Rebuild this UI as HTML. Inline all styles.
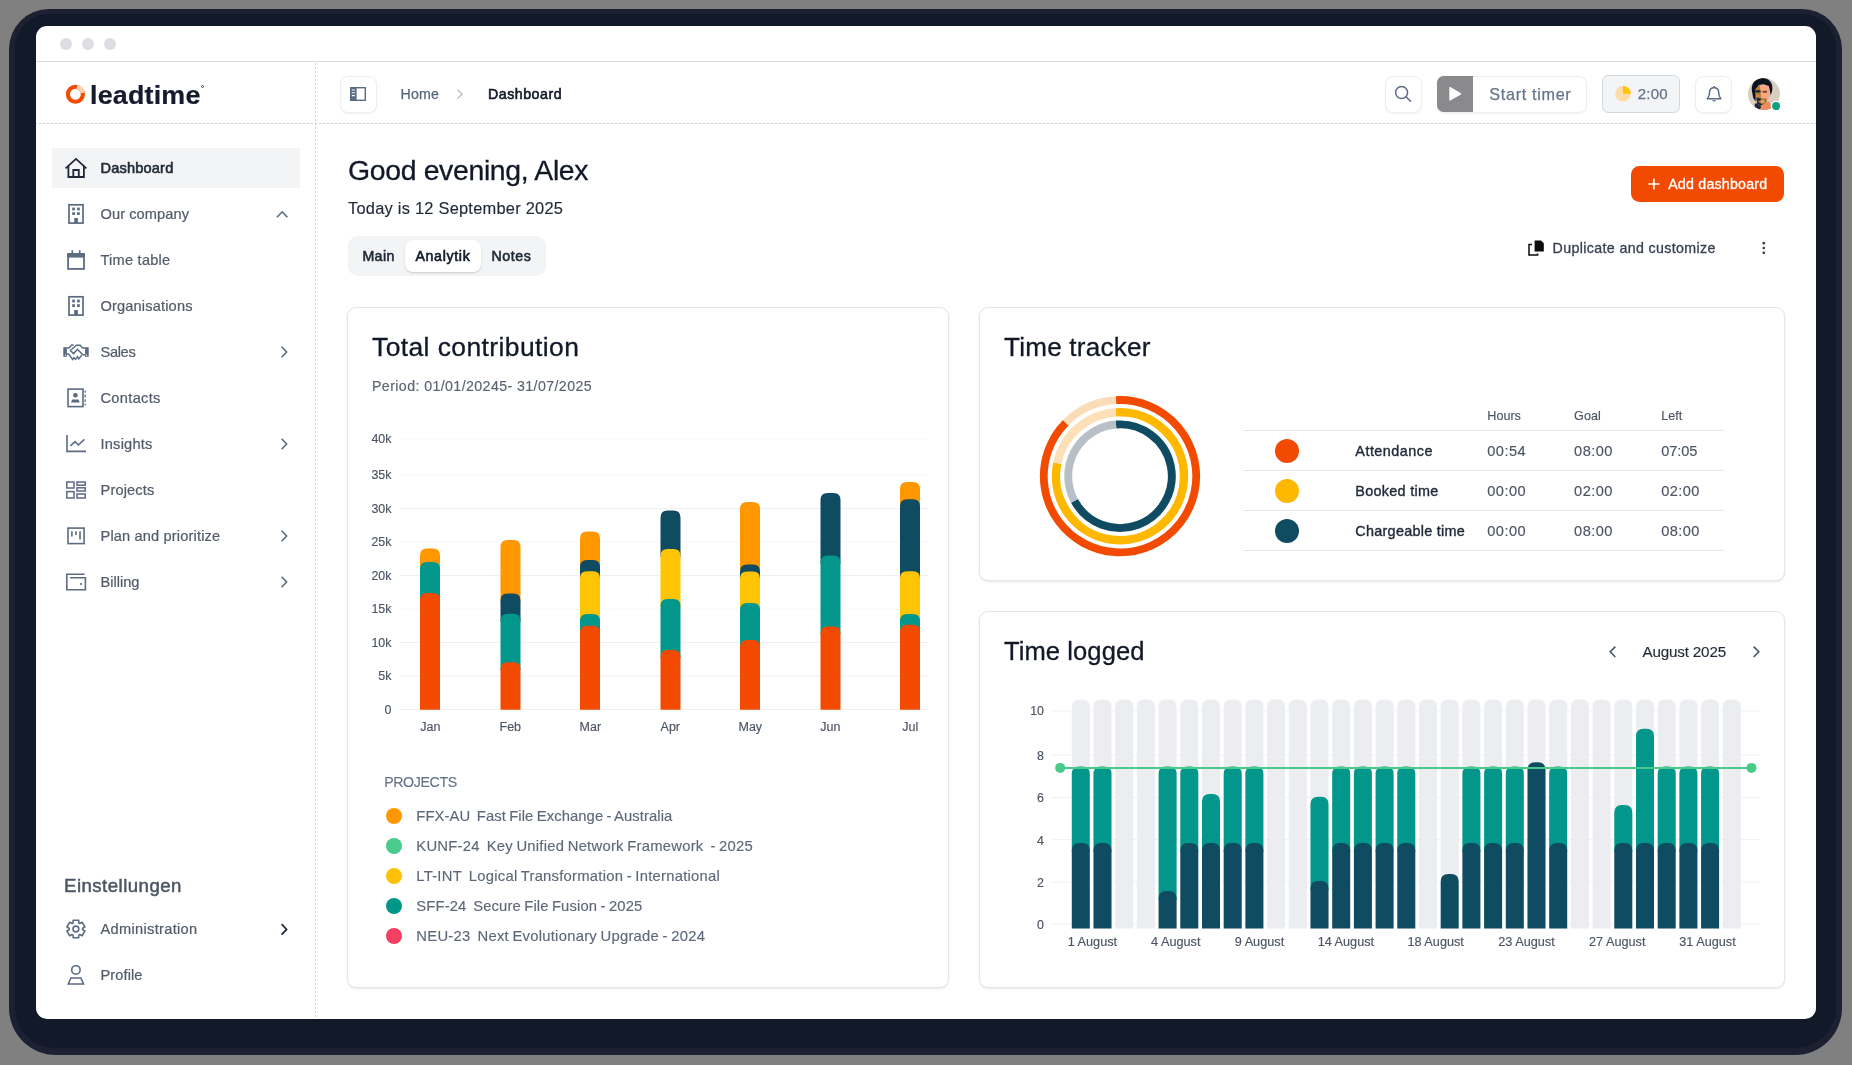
<!DOCTYPE html>
<html><head><meta charset="utf-8"><title>leadtime</title>
<style>
*{margin:0;padding:0;box-sizing:border-box}
html,body{width:1852px;height:1065px;overflow:hidden}
body{background:#808080;font-family:"Liberation Sans",sans-serif;position:relative}
.t{position:absolute;white-space:pre;font-family:"Liberation Sans",sans-serif}
.a{position:absolute}
svg{position:absolute;overflow:visible}
.card{position:absolute;background:#fff;border:1px solid #e3e6ea;border-radius:9px;box-shadow:0 1px 2px rgba(16,24,40,.10)}
.btn{position:absolute;background:#fff;border:1px solid #eceef2;border-radius:8px;box-shadow:0 1px 2px rgba(16,24,40,.05)}
</style></head><body>
<div id="L" style="position:absolute;left:0;top:0;width:1852px;height:1065px;will-change:transform">
<div class="a" style="left:8.6px;top:8.6px;width:1833.8px;height:1046.4px;border-radius:40px 40px 47px 47px;background:#1d2031"></div>
<div class="a" style="left:15px;top:14px;width:1821px;height:1034px;border-radius:34px 34px 40px 40px;background:#121929"></div>
<div class="a" style="left:36px;top:26px;width:1780px;height:993px;border-radius:11px;background:#fff"></div>
<div class="a" style="left:36px;top:61px;width:1780px;height:1px;background:#d8dadc"></div>
<div class="a" style="left:60px;top:38px;width:12px;height:12px;border-radius:6px;background:#dcdee2"></div>
<div class="a" style="left:82px;top:38px;width:12px;height:12px;border-radius:6px;background:#dcdee2"></div>
<div class="a" style="left:104px;top:38px;width:12px;height:12px;border-radius:6px;background:#dcdee2"></div>
<div class="a" style="left:36px;top:123px;width:1780px;height:1px;background:repeating-linear-gradient(to right,#c6ced9 0 2px,transparent 2px 4px);background-position:3px 0"></div>
<div class="a" style="left:315px;top:63px;width:1px;height:956px;background:repeating-linear-gradient(to bottom,#c6ced9 0 2px,transparent 2px 4px)"></div>
<div class="a" style="left:52px;top:148px;width:248px;height:40px;border-radius:2px;background:#f3f4f6"></div>
<span class="t" style="left:100.50px;top:159.00px;font-size:14.6px;line-height:18px;letter-spacing:0.172px;color:#1f2937;-webkit-text-stroke:0.60px #1f2937;">Dashboard</span>
<span class="t" style="left:100.50px;top:205.00px;font-size:14.6px;line-height:18px;letter-spacing:0.086px;color:#535c6a;-webkit-text-stroke:0.22px #535c6a;">Our company</span>
<span class="t" style="left:100.50px;top:251.00px;font-size:14.6px;line-height:18px;letter-spacing:0.231px;color:#535c6a;-webkit-text-stroke:0.22px #535c6a;">Time table</span>
<span class="t" style="left:100.50px;top:297.00px;font-size:14.6px;line-height:18px;letter-spacing:0.160px;color:#535c6a;-webkit-text-stroke:0.22px #535c6a;">Organisations</span>
<span class="t" style="left:100.50px;top:343.00px;font-size:14.6px;line-height:18px;letter-spacing:-0.330px;color:#535c6a;-webkit-text-stroke:0.22px #535c6a;">Sales</span>
<span class="t" style="left:100.50px;top:389.00px;font-size:14.6px;line-height:18px;letter-spacing:0.326px;color:#535c6a;-webkit-text-stroke:0.22px #535c6a;">Contacts</span>
<span class="t" style="left:100.50px;top:435.00px;font-size:14.6px;line-height:18px;letter-spacing:0.226px;color:#535c6a;-webkit-text-stroke:0.22px #535c6a;">Insights</span>
<span class="t" style="left:100.50px;top:481.00px;font-size:14.6px;line-height:18px;letter-spacing:0.151px;color:#535c6a;-webkit-text-stroke:0.22px #535c6a;">Projects</span>
<span class="t" style="left:100.50px;top:527.00px;font-size:14.6px;line-height:18px;letter-spacing:0.157px;color:#535c6a;-webkit-text-stroke:0.22px #535c6a;">Plan and prioritize</span>
<span class="t" style="left:100.50px;top:573.00px;font-size:14.6px;line-height:18px;letter-spacing:0.008px;color:#535c6a;-webkit-text-stroke:0.22px #535c6a;">Billing</span>
<span class="t" style="left:100.50px;top:920.00px;font-size:14.6px;line-height:18px;letter-spacing:0.323px;color:#535c6a;-webkit-text-stroke:0.22px #535c6a;">Administration</span>
<span class="t" style="left:100.50px;top:966.00px;font-size:14.6px;line-height:18px;letter-spacing:0.103px;color:#535c6a;-webkit-text-stroke:0.22px #535c6a;">Profile</span>
<span class="t" style="left:64.00px;top:874.00px;font-size:18.6px;line-height:23px;letter-spacing:0.476px;color:#4b5563;-webkit-text-stroke:0.50px #4b5563;">Einstellungen</span>
<div class="btn" style="left:339.5px;top:75.5px;width:37px;height:37px"></div>
<span class="t" style="left:400.60px;top:85.00px;font-size:14.2px;line-height:18px;letter-spacing:0.174px;color:#56657d;-webkit-text-stroke:0.25px #56657d;">Home</span>
<span class="t" style="left:488.00px;top:85.00px;font-size:14.2px;line-height:18px;letter-spacing:0.516px;color:#111827;-webkit-text-stroke:0.60px #111827;">Dashboard</span>
<div class="btn" style="left:1384.5px;top:75.5px;width:37px;height:37px"></div>
<div class="btn" style="left:1437px;top:75.5px;width:150px;height:37px"></div>
<div class="a" style="left:1437px;top:75.6px;width:36px;height:36.8px;border-radius:6.5px 0 0 6.5px;background:#8a8a8d"></div>
<span class="t" style="left:1489.30px;top:84.00px;font-size:16.2px;line-height:20px;letter-spacing:0.679px;color:#64748b;-webkit-text-stroke:0.25px #64748b;">Start timer</span>
<div class="a" style="left:1602px;top:75.2px;width:78.4px;height:37.4px;border-radius:6.5px;background:#f3f4f6;border:1px solid #d2d7de"></div>
<span class="t" style="left:1637.80px;top:85.00px;font-size:15px;line-height:18px;letter-spacing:0.169px;color:#64748b;-webkit-text-stroke:0.25px #64748b;">2:00</span>
<div class="btn" style="left:1695.2px;top:75.5px;width:37.2px;height:37px"></div>
<span class="t" style="left:348.00px;top:153.00px;font-size:28.4px;line-height:35px;letter-spacing:-0.336px;color:#111827;-webkit-text-stroke:0.30px #111827;">Good evening, Alex</span>
<span class="t" style="left:348.00px;top:198.00px;font-size:16.4px;line-height:20px;letter-spacing:0.249px;color:#1f2937;-webkit-text-stroke:0.15px #1f2937;">Today is 12 September 2025</span>
<div class="a" style="left:348px;top:236px;width:198px;height:40px;border-radius:10px;background:#f3f4f6"></div>
<div class="a" style="left:405px;top:240px;width:76px;height:32px;border-radius:8px;background:#fff;box-shadow:0 1px 2px rgba(16,24,40,.18)"></div>
<span class="t" style="left:362.40px;top:247.00px;font-size:14.2px;line-height:18px;letter-spacing:0.407px;color:#1f2937;-webkit-text-stroke:0.60px #1f2937;">Main</span>
<span class="t" style="left:415.40px;top:247.00px;font-size:14.2px;line-height:18px;letter-spacing:0.668px;color:#111827;-webkit-text-stroke:0.60px #111827;">Analytik</span>
<span class="t" style="left:491.40px;top:247.00px;font-size:14.2px;line-height:18px;letter-spacing:0.601px;color:#1f2937;-webkit-text-stroke:0.60px #1f2937;">Notes</span>
<div class="a" style="left:1631px;top:166px;width:153px;height:36px;border-radius:8.5px;background:#f24a00"></div>
<span class="t" style="left:1668.20px;top:175.00px;font-size:14.2px;line-height:18px;letter-spacing:0.223px;color:#fff;-webkit-text-stroke:0.30px #fff;">Add dashboard</span>
<span class="t" style="left:1552.60px;top:239.00px;font-size:14.2px;line-height:18px;letter-spacing:0.377px;color:#374151;-webkit-text-stroke:0.30px #374151;">Duplicate and customize</span>
<div class="card" style="left:347px;top:307px;width:602px;height:681px"></div>
<div class="card" style="left:979px;top:307px;width:806px;height:274px"></div>
<div class="card" style="left:979px;top:611px;width:806px;height:377px"></div>
<span class="t" style="left:372.00px;top:332.00px;font-size:25.2px;line-height:31px;letter-spacing:0.390px;color:#111827;-webkit-text-stroke:0.30px #111827;transform:scaleX(1.05);transform-origin:0 0;">Total contribution</span>
<span class="t" style="left:1004.00px;top:332.00px;font-size:25.2px;line-height:31px;letter-spacing:0.224px;color:#111827;-webkit-text-stroke:0.30px #111827;transform:scaleX(1.035);transform-origin:0 0;">Time tracker</span>
<span class="t" style="left:1004.00px;top:636.00px;font-size:25.2px;line-height:31px;letter-spacing:0.068px;color:#111827;-webkit-text-stroke:0.30px #111827;transform:scaleX(1.015);transform-origin:0 0;">Time logged</span>
<span class="t" style="left:372.00px;top:377.00px;font-size:14.2px;line-height:18px;letter-spacing:0.405px;color:#5b6472;-webkit-text-stroke:0.15px #5b6472;">Period: 01/01/20245- 31/07/2025</span>
<span class="t" style="left:384.50px;top:703.00px;font-size:12.4px;line-height:15px;letter-spacing:0.000px;color:#4b5563;-webkit-text-stroke:0.15px #4b5563;">0</span>
<span class="t" style="left:378.30px;top:669.00px;font-size:12.4px;line-height:15px;letter-spacing:0.000px;color:#4b5563;-webkit-text-stroke:0.15px #4b5563;">5k</span>
<span class="t" style="left:371.41px;top:636.00px;font-size:12.4px;line-height:15px;letter-spacing:0.000px;color:#4b5563;-webkit-text-stroke:0.15px #4b5563;">10k</span>
<span class="t" style="left:371.41px;top:602.00px;font-size:12.4px;line-height:15px;letter-spacing:0.000px;color:#4b5563;-webkit-text-stroke:0.15px #4b5563;">15k</span>
<span class="t" style="left:371.41px;top:569.00px;font-size:12.4px;line-height:15px;letter-spacing:0.000px;color:#4b5563;-webkit-text-stroke:0.15px #4b5563;">20k</span>
<span class="t" style="left:371.41px;top:535.00px;font-size:12.4px;line-height:15px;letter-spacing:0.000px;color:#4b5563;-webkit-text-stroke:0.15px #4b5563;">25k</span>
<span class="t" style="left:371.41px;top:502.00px;font-size:12.4px;line-height:15px;letter-spacing:0.000px;color:#4b5563;-webkit-text-stroke:0.15px #4b5563;">30k</span>
<span class="t" style="left:371.41px;top:468.00px;font-size:12.4px;line-height:15px;letter-spacing:0.000px;color:#4b5563;-webkit-text-stroke:0.15px #4b5563;">35k</span>
<span class="t" style="left:371.41px;top:432.00px;font-size:12.4px;line-height:15px;letter-spacing:0.000px;color:#4b5563;-webkit-text-stroke:0.15px #4b5563;">40k</span>
<span class="t" style="left:420.22px;top:720.00px;font-size:12.5px;line-height:15px;letter-spacing:0.000px;color:#4b5563;-webkit-text-stroke:0.15px #4b5563;">Jan</span>
<span class="t" style="left:499.53px;top:720.00px;font-size:12.5px;line-height:15px;letter-spacing:0.000px;color:#4b5563;-webkit-text-stroke:0.15px #4b5563;">Feb</span>
<span class="t" style="left:579.54px;top:720.00px;font-size:12.5px;line-height:15px;letter-spacing:0.000px;color:#4b5563;-webkit-text-stroke:0.15px #4b5563;">Mar</span>
<span class="t" style="left:660.57px;top:720.00px;font-size:12.5px;line-height:15px;letter-spacing:0.000px;color:#4b5563;-webkit-text-stroke:0.15px #4b5563;">Apr</span>
<span class="t" style="left:738.49px;top:720.00px;font-size:12.5px;line-height:15px;letter-spacing:0.000px;color:#4b5563;-webkit-text-stroke:0.15px #4b5563;">May</span>
<span class="t" style="left:820.22px;top:720.00px;font-size:12.5px;line-height:15px;letter-spacing:0.000px;color:#4b5563;-webkit-text-stroke:0.15px #4b5563;">Jun</span>
<span class="t" style="left:902.31px;top:720.00px;font-size:12.5px;line-height:15px;letter-spacing:0.000px;color:#4b5563;-webkit-text-stroke:0.15px #4b5563;">Jul</span>
<span class="t" style="left:384.20px;top:773.00px;font-size:14.2px;line-height:18px;letter-spacing:-0.392px;color:#64748b;-webkit-text-stroke:0.15px #64748b;">PROJECTS</span>
<div class="a" style="left:386px;top:808px;width:16px;height:16px;border-radius:8px;background:#ff9800"></div>
<span class="t" style="left:416.30px;top:807.00px;font-size:14.8px;line-height:18px;letter-spacing:0.085px;color:#5d687a;-webkit-text-stroke:0.15px #5d687a;word-spacing:-0.9px;">FFX-AU&nbsp; Fast File Exchange - Australia</span>
<div class="a" style="left:386px;top:838px;width:16px;height:16px;border-radius:8px;background:#4acb8b"></div>
<span class="t" style="left:416.30px;top:837.00px;font-size:14.8px;line-height:18px;letter-spacing:0.254px;color:#5d687a;-webkit-text-stroke:0.15px #5d687a;word-spacing:-0.9px;">KUNF-24&nbsp; Key Unified Network Framework&nbsp; - 2025</span>
<div class="a" style="left:386px;top:868px;width:16px;height:16px;border-radius:8px;background:#ffc107"></div>
<span class="t" style="left:416.30px;top:867.00px;font-size:14.8px;line-height:18px;letter-spacing:0.253px;color:#5d687a;-webkit-text-stroke:0.15px #5d687a;word-spacing:-0.9px;">LT-INT&nbsp; Logical Transformation - International</span>
<div class="a" style="left:386px;top:898px;width:16px;height:16px;border-radius:8px;background:#009688"></div>
<span class="t" style="left:416.30px;top:897.00px;font-size:14.8px;line-height:18px;letter-spacing:0.137px;color:#5d687a;-webkit-text-stroke:0.15px #5d687a;word-spacing:-0.9px;">SFF-24&nbsp; Secure File Fusion - 2025</span>
<div class="a" style="left:386px;top:928px;width:16px;height:16px;border-radius:8px;background:#f43f63"></div>
<span class="t" style="left:416.30px;top:927.00px;font-size:14.8px;line-height:18px;letter-spacing:0.264px;color:#5d687a;-webkit-text-stroke:0.15px #5d687a;word-spacing:-0.9px;">NEU-23&nbsp; Next Evolutionary Upgrade - 2024</span>
<div class="a" style="left:1243px;top:430px;width:481px;height:1px;background:#e5e7eb"></div>
<div class="a" style="left:1243px;top:470px;width:481px;height:1px;background:#e5e7eb"></div>
<div class="a" style="left:1243px;top:510px;width:481px;height:1px;background:#e5e7eb"></div>
<div class="a" style="left:1243px;top:550px;width:481px;height:1px;background:#e5e7eb"></div>
<span class="t" style="left:1487.30px;top:408.00px;font-size:12.6px;line-height:16px;letter-spacing:0.000px;color:#4b5563;-webkit-text-stroke:0.15px #4b5563;">Hours</span>
<span class="t" style="left:1574.10px;top:408.00px;font-size:12.6px;line-height:16px;letter-spacing:0.000px;color:#4b5563;-webkit-text-stroke:0.15px #4b5563;">Goal</span>
<span class="t" style="left:1661.20px;top:408.00px;font-size:12.6px;line-height:16px;letter-spacing:0.000px;color:#4b5563;-webkit-text-stroke:0.15px #4b5563;">Left</span>
<div class="a" style="left:1275px;top:439px;width:24px;height:24px;border-radius:12px;background:#f24a00"></div>
<span class="t" style="left:1355.30px;top:442.00px;font-size:14.4px;line-height:18px;letter-spacing:0.494px;color:#1f2937;-webkit-text-stroke:0.38px #1f2937;">Attendance</span>
<span class="t" style="left:1487.30px;top:442.00px;font-size:14.6px;line-height:18px;letter-spacing:0.441px;color:#4b5563;-webkit-text-stroke:0.15px #4b5563;">00:54</span>
<span class="t" style="left:1574.10px;top:442.00px;font-size:14.6px;line-height:18px;letter-spacing:0.441px;color:#4b5563;-webkit-text-stroke:0.15px #4b5563;">08:00</span>
<span class="t" style="left:1661.20px;top:442.00px;font-size:14.6px;line-height:18px;letter-spacing:-0.059px;color:#4b5563;-webkit-text-stroke:0.15px #4b5563;">07:05</span>
<div class="a" style="left:1275px;top:479px;width:24px;height:24px;border-radius:12px;background:#ffb800"></div>
<span class="t" style="left:1355.30px;top:482.00px;font-size:14.4px;line-height:18px;letter-spacing:0.296px;color:#1f2937;-webkit-text-stroke:0.38px #1f2937;">Booked time</span>
<span class="t" style="left:1487.30px;top:482.00px;font-size:14.6px;line-height:18px;letter-spacing:0.441px;color:#4b5563;-webkit-text-stroke:0.15px #4b5563;">00:00</span>
<span class="t" style="left:1574.10px;top:482.00px;font-size:14.6px;line-height:18px;letter-spacing:0.441px;color:#4b5563;-webkit-text-stroke:0.15px #4b5563;">02:00</span>
<span class="t" style="left:1661.20px;top:482.00px;font-size:14.6px;line-height:18px;letter-spacing:0.441px;color:#4b5563;-webkit-text-stroke:0.15px #4b5563;">02:00</span>
<div class="a" style="left:1275px;top:519px;width:24px;height:24px;border-radius:12px;background:#104c61"></div>
<span class="t" style="left:1355.30px;top:522.00px;font-size:14.4px;line-height:18px;letter-spacing:0.281px;color:#1f2937;-webkit-text-stroke:0.38px #1f2937;">Chargeable time</span>
<span class="t" style="left:1487.30px;top:522.00px;font-size:14.6px;line-height:18px;letter-spacing:0.441px;color:#4b5563;-webkit-text-stroke:0.15px #4b5563;">00:00</span>
<span class="t" style="left:1574.10px;top:522.00px;font-size:14.6px;line-height:18px;letter-spacing:0.441px;color:#4b5563;-webkit-text-stroke:0.15px #4b5563;">08:00</span>
<span class="t" style="left:1661.20px;top:522.00px;font-size:14.6px;line-height:18px;letter-spacing:0.441px;color:#4b5563;-webkit-text-stroke:0.15px #4b5563;">08:00</span>
<span class="t" style="left:1642.50px;top:642.00px;font-size:15.2px;line-height:19px;letter-spacing:-0.166px;color:#1f2937;-webkit-text-stroke:0.15px #1f2937;">August 2025</span>
<span class="t" style="left:1030.21px;top:704.00px;font-size:12.4px;line-height:15px;letter-spacing:0.000px;color:#4b5563;-webkit-text-stroke:0.15px #4b5563;">10</span>
<span class="t" style="left:1037.10px;top:749.00px;font-size:12.4px;line-height:15px;letter-spacing:0.000px;color:#4b5563;-webkit-text-stroke:0.15px #4b5563;">8</span>
<span class="t" style="left:1037.10px;top:791.00px;font-size:12.4px;line-height:15px;letter-spacing:0.000px;color:#4b5563;-webkit-text-stroke:0.15px #4b5563;">6</span>
<span class="t" style="left:1037.10px;top:834.00px;font-size:12.4px;line-height:15px;letter-spacing:0.000px;color:#4b5563;-webkit-text-stroke:0.15px #4b5563;">4</span>
<span class="t" style="left:1037.10px;top:876.00px;font-size:12.4px;line-height:15px;letter-spacing:0.000px;color:#4b5563;-webkit-text-stroke:0.15px #4b5563;">2</span>
<span class="t" style="left:1037.10px;top:918.00px;font-size:12.4px;line-height:15px;letter-spacing:0.000px;color:#4b5563;-webkit-text-stroke:0.15px #4b5563;">0</span>
<span class="t" style="left:1067.69px;top:934.00px;font-size:12.7px;line-height:16px;letter-spacing:0.000px;color:#4b5563;-webkit-text-stroke:0.15px #4b5563;">1 August</span>
<span class="t" style="left:1151.09px;top:934.00px;font-size:12.7px;line-height:16px;letter-spacing:0.000px;color:#4b5563;-webkit-text-stroke:0.15px #4b5563;">4 August</span>
<span class="t" style="left:1234.79px;top:934.00px;font-size:12.7px;line-height:16px;letter-spacing:0.000px;color:#4b5563;-webkit-text-stroke:0.15px #4b5563;">9 August</span>
<span class="t" style="left:1317.65px;top:934.00px;font-size:12.7px;line-height:16px;letter-spacing:0.000px;color:#4b5563;-webkit-text-stroke:0.15px #4b5563;">14 August</span>
<span class="t" style="left:1407.45px;top:934.00px;font-size:12.7px;line-height:16px;letter-spacing:0.000px;color:#4b5563;-webkit-text-stroke:0.15px #4b5563;">18 August</span>
<span class="t" style="left:1498.25px;top:934.00px;font-size:12.7px;line-height:16px;letter-spacing:0.000px;color:#4b5563;-webkit-text-stroke:0.15px #4b5563;">23 August</span>
<span class="t" style="left:1589.05px;top:934.00px;font-size:12.7px;line-height:16px;letter-spacing:0.000px;color:#4b5563;-webkit-text-stroke:0.15px #4b5563;">27 August</span>
<span class="t" style="left:1679.25px;top:934.00px;font-size:12.7px;line-height:16px;letter-spacing:0.000px;color:#4b5563;-webkit-text-stroke:0.15px #4b5563;">31 August</span>
<svg width="1852" height="1065" viewBox="0 0 1852 1065" style="left:0;top:0"><circle cx="75.4" cy="94.3" r="7.5" fill="none" stroke="#f24a00" stroke-width="4.1"/>
<path d="M76.96 86.96 A7.5 7.5 0 0 1 82.79 93.00" fill="none" stroke="#fbd3b3" stroke-width="4.1" />
<g fill="none" stroke="#1f2937" stroke-width="1.8" stroke-linejoin="miter"><path d="M65.6 168.4 L76 158.9 L86.4 168.4"/><path d="M68.4 166 V177 H83.9 V166"/><path d="M73.3 177 V170 H78.8 V177"/></g>
<g><rect x="69" y="204.8" width="14" height="18.3" fill="none" stroke="#5b6b82" stroke-width="1.7"/><rect x="72.2" y="207.6" width="2.7" height="2.8" fill="#5b6b82"/><rect x="77.1" y="207.6" width="2.7" height="2.8" fill="#5b6b82"/><rect x="72.2" y="212.2" width="2.7" height="2.8" fill="#5b6b82"/><rect x="77.1" y="212.2" width="2.7" height="2.8" fill="#5b6b82"/><rect x="74.2" y="218" width="3.7" height="5" fill="#5b6b82"/></g>
<g><rect x="69" y="296.8" width="14" height="18.3" fill="none" stroke="#5b6b82" stroke-width="1.7"/><rect x="72.2" y="299.6" width="2.7" height="2.8" fill="#5b6b82"/><rect x="77.1" y="299.6" width="2.7" height="2.8" fill="#5b6b82"/><rect x="72.2" y="304.2" width="2.7" height="2.8" fill="#5b6b82"/><rect x="77.1" y="304.2" width="2.7" height="2.8" fill="#5b6b82"/><rect x="74.2" y="310" width="3.7" height="5" fill="#5b6b82"/></g>
<g><rect x="68.1" y="253.9" width="15.9" height="15" fill="none" stroke="#5b6b82" stroke-width="1.8"/><rect x="67.2" y="253" width="17.7" height="4.6" fill="#5b6b82"/><rect x="71.5" y="250.2" width="1.6" height="3.5" fill="#5b6b82"/><rect x="78.9" y="250.2" width="1.6" height="3.5" fill="#5b6b82"/></g>
<g fill="none" stroke="#5b6b82" stroke-width="1.45" stroke-linejoin="miter"><rect x="63.3" y="347.2" width="3.6" height="9.6" fill="#5b6b82" stroke="none"/><rect x="85.1" y="347.2" width="3.6" height="9.6" fill="#5b6b82" stroke="none"/><circle cx="65.5" cy="355.2" r="0.6" fill="#fff" stroke="none"/><circle cx="86.6" cy="355.2" r="0.6" fill="#fff" stroke="none"/><path d="M66.9 348 H69 L71.7 345 H73.7"/><path d="M85.1 348 H82.5 L80.2 345.2 H76.4 L70.4 350.5 L73.5 353.6 L77.5 349.3 L82 354.1 Q82.8 355 84 355 H85.1"/><path d="M66.9 354 H68.5 L72.7 359.5 L73.9 357.6 L75.5 359.4 L77.4 356.7 L78.6 359 L81.7 355.2"/></g>
<g><rect x="68" y="389.1" width="15" height="17.5" fill="none" stroke="#5b6b82" stroke-width="1.6"/><circle cx="75.4" cy="395.3" r="2.3" fill="#5b6b82"/><path d="M72.3 399.6 H78.5 L79.8 402.6 H71 Z" fill="#5b6b82"/><path d="M85.2 390.5 V392.8 M85.2 394.6 V397.4 M85.2 399.2 V402 M85.2 403.6 V405.4" stroke="#5b6b82" stroke-width="1.2"/></g>
<g fill="none" stroke="#5b6b82" stroke-width="1.6"><path d="M67 435 V451.4 H86"/><path d="M70.4 445.8 L75 441.6 L78.4 445 L84.4 439.4" stroke-linejoin="miter"/></g>
<g fill="none" stroke="#5b6b82" stroke-width="1.5"><rect x="66.8" y="482" width="7.2" height="6"/><rect x="66.8" y="491.6" width="7.2" height="6.4"/><rect x="77" y="482" width="8.2" height="3.2"/><rect x="77" y="487.8" width="8.2" height="3.2"/><rect x="77" y="494" width="8.2" height="4"/></g>
<g fill="none" stroke="#5b6b82" stroke-width="1.6"><rect x="68" y="528.1" width="16.1" height="15.5"/><path d="M71.9 531.2 V536.6 M76 531.2 V535 M80 531.2 V539.6"/></g>
<g fill="none" stroke="#5b6b82" stroke-width="1.6"><path d="M84.6 574.2 H66.8 V589.8 H85.4 V577.8 H70"/><circle cx="81" cy="584" r="1.1" fill="#5b6b82" stroke="none"/></g>
<g fill="none" stroke="#5b6b82" stroke-width="1.6" stroke-linejoin="round"><path d="M73.07 922.93 L73.13 920.23 L78.67 920.23 L78.73 922.93 L79.74 923.51 L82.12 922.22 L84.88 927.01 L82.57 928.42 L82.57 929.58 L84.88 930.99 L82.12 935.78 L79.74 934.49 L78.73 935.07 L78.67 937.77 L73.13 937.77 L73.07 935.07 L72.06 934.49 L69.68 935.78 L66.92 930.99 L69.23 929.58 L69.23 928.42 L66.92 927.01 L69.68 922.22 L72.06 923.51 Z"/><circle cx="75.9" cy="929" r="2.9"/></g>
<g fill="none" stroke="#5b6b82" stroke-width="1.6"><circle cx="75.9" cy="969.9" r="4.2"/><path d="M70.9 978 H80.9 L83.5 984 H68.3 Z" stroke-linejoin="miter"/></g>
<path d="M277 217.2 L282.2 211.8 L287.4 217.2" fill="none" stroke="#5b6b82" stroke-width="1.6"/>
<path d="M281.6 346.8 L286.6 352 L281.6 357.2" fill="none" stroke="#5b6b82" stroke-width="1.6"/>
<path d="M281.6 438.8 L286.6 444 L281.6 449.2" fill="none" stroke="#5b6b82" stroke-width="1.6"/>
<path d="M281.6 530.8 L286.6 536 L281.6 541.2" fill="none" stroke="#5b6b82" stroke-width="1.6"/>
<path d="M281.6 576.8 L286.6 582 L281.6 587.2" fill="none" stroke="#5b6b82" stroke-width="1.6"/>
<path d="M281.6 924.2 L286.6 929.4 L281.6 934.6" fill="none" stroke="#1f2937" stroke-width="1.7"/>
<g><rect x="350.7" y="87.7" width="14.6" height="12.6" fill="none" stroke="#5b6b82" stroke-width="1.4"/><rect x="350" y="87" width="6.6" height="14" fill="#5b6b82"/><path d="M351.8 90 H354.8 M351.8 92.8 H354.8 M351.8 95.6 H354.8" stroke="#fff" stroke-width="1.1"/></g>
<path d="M457.4 89.8 L462.2 94.2 L457.4 98.6" fill="none" stroke="#b3bcc9" stroke-width="1.3"/>
<g fill="none" stroke="#5b6b82" stroke-width="1.5"><circle cx="1401.6" cy="92.5" r="6.0"/><path d="M1406 96.8 L1410.6 101.2" stroke-linecap="round"/></g>
<path d="M1450 87.6 L1460.6 93.8 L1450 100 Z" fill="#fff" stroke="#fff" stroke-width="1.4" stroke-linejoin="round"/>
<circle cx="1623" cy="93.8" r="7.8" fill="#fddba6"/><path d="M1623 93.8 V86 A7.8 7.8 0 0 1 1630.8 93.8 Z" fill="#ffc300"/>
<g fill="none" stroke="#5b6b82" stroke-width="1.5" stroke-linejoin="round"><path d="M1707.3 98.7 H1720.9 C1719.2 97 1718.7 95.6 1718.7 92.8 C1718.7 89.6 1716.9 87.7 1714.1 87.7 C1711.3 87.7 1709.5 89.6 1709.5 92.8 C1709.5 95.6 1709 97 1707.3 98.7 Z"/><path d="M1714.1 86.1 V87.7"/><path d="M1712 100.3 H1716.2 C1715.6 101.9 1712.6 101.9 1712 100.3 Z" fill="#5b6b82" stroke="none"/></g>
<g><clipPath id="av"><circle cx="1764" cy="94" r="16"/></clipPath><g clip-path="url(#av)"><rect x="1747" y="77" width="34" height="34" fill="#d9cfc0"/><path d="M1752.2 92.5 C1750.4 84 1755 78 1762.5 78 C1769.5 78 1773.4 83.5 1772.2 90.5 L1770.8 95.5 L1768.8 86.4 L1764 84.6 L1758.4 85.4 L1755.4 90 L1755.8 101.5 L1753.2 98 Z" fill="#0c131f"/><path d="M1759.4 84.8 L1764 84.4 L1768.8 86 L1770.2 94 L1768.8 99.6 L1764.6 103 L1760 100 Z" fill="#f6a786"/><path d="M1755.4 89 L1759.6 85 L1761 96 L1760.4 99 L1756.4 98 Z" fill="#b7792f"/><path d="M1755.2 90.2 H1760.6 V92.6 H1755.2 Z" fill="#1a2233"/><path d="M1762.6 90.8 H1767 V92.8 H1762.6 Z" fill="#7a4a25"/><path d="M1756.6 96 L1758.4 94.4 L1759.4 97 Z" fill="#f08a5e"/><path d="M1756.4 97.4 L1761 98.2 L1766.6 98.6 L1767 101.6 L1764.6 104.6 L1761 105.6 L1757.2 103.6 Z" fill="#ad7733"/><path d="M1756.4 97.4 L1761.2 98.6 L1760.2 100.4 L1757.6 101 L1759.6 103 L1762.6 104.4 L1761 105.8 L1757 103.8 Z" fill="#1d2738"/><path d="M1760.8 100.2 H1764.4 V102.8 H1760.8 Z" fill="#f1a27e"/><path d="M1754.6 103.6 L1757 103.6 L1761.4 106.4 L1759.8 110 L1755 108.6 Z" fill="#1d2738"/><path d="M1759.6 110.6 L1761.8 105.6 L1765.4 103.6 L1768.8 101.2 L1771.6 106.6 L1770.8 111 Z" fill="#f08a5e"/></g><circle cx="1776.1" cy="106" r="5.3" fill="#fff"/><circle cx="1776.1" cy="106" r="4" fill="#0e9f80"/></g>
<path d="M1648.4 184 H1659.4 M1653.9 178.5 V189.5" stroke="#fff" stroke-width="1.7"/>
<g><path d="M1534.6 240.4 H1541 L1543.8 243.2 V251.6 H1534.6 Z" fill="#0b0b0d"/><path d="M1532 244.4 H1529 V255 H1537.6 V253.4" fill="none" stroke="#0b0b0d" stroke-width="1.5"/></g>
<circle cx="1763.8" cy="243.2" r="1.35" fill="#374151"/>
<circle cx="1763.8" cy="248" r="1.35" fill="#374151"/>
<circle cx="1763.8" cy="252.8" r="1.35" fill="#374151"/>
<path d="M400 709.5 H928" stroke="#eef0f2" stroke-width="1"/>
<path d="M400 676 H928" stroke="#eef0f2" stroke-width="1"/>
<path d="M400 642.5 H928" stroke="#eef0f2" stroke-width="1"/>
<path d="M400 609 H928" stroke="#eceef1" stroke-width="1" stroke-dasharray="1 1"/>
<path d="M400 575.5 H928" stroke="#eef0f2" stroke-width="1"/>
<path d="M400 542 H928" stroke="#eceef1" stroke-width="1" stroke-dasharray="1 1"/>
<path d="M400 508.5 H928" stroke="#eef0f2" stroke-width="1"/>
<path d="M400 475 H928" stroke="#eceef1" stroke-width="1" stroke-dasharray="1 1"/>
<path d="M400 439 H928" stroke="#eceef1" stroke-width="1" stroke-dasharray="1 1"/>
<path d="M420 570 V555.60 Q420 548.60 427 548.60 H433 Q440 548.60 440 555.60 V570 Z" fill="#ff9800"/>
<path d="M420 601 V569.00 Q420 562.00 427 562.00 H433 Q440 562.00 440 569.00 V601 Z" fill="#02978a"/>
<path d="M420 709.7 V600.00 Q420 593.00 427 593.00 H433 Q440 593.00 440 600.00 V709.7 Z" fill="#f24a00"/>
<path d="M500.5 601.5 V547.00 Q500.5 540.00 507.5 540.00 H513.5 Q520.5 540.00 520.5 547.00 V601.5 Z" fill="#ff9800"/>
<path d="M500.5 621.7 V600.50 Q500.5 593.50 507.5 593.50 H513.5 Q520.5 593.50 520.5 600.50 V621.7 Z" fill="#104c61"/>
<path d="M500.5 670.3 V620.70 Q500.5 613.70 507.5 613.70 H513.5 Q520.5 613.70 520.5 620.70 V670.3 Z" fill="#02978a"/>
<path d="M500.5 709.7 V669.30 Q500.5 662.30 507.5 662.30 H513.5 Q520.5 662.30 520.5 669.30 V709.7 Z" fill="#f24a00"/>
<path d="M580 568 V538.60 Q580 531.60 587 531.60 H593 Q600 531.60 600 538.60 V568 Z" fill="#ff9800"/>
<path d="M580 579.2 V567.00 Q580 560.00 587 560.00 H593 Q600 560.00 600 567.00 V579.2 Z" fill="#104c61"/>
<path d="M580 622 V578.20 Q580 571.20 587 571.20 H593 Q600 571.20 600 578.20 V622 Z" fill="#ffc505"/>
<path d="M580 633.8 V621.00 Q580 614.00 587 614.00 H593 Q600 614.00 600 621.00 V633.8 Z" fill="#02978a"/>
<path d="M580 709.7 V632.80 Q580 625.80 587 625.80 H593 Q600 625.80 600 632.80 V709.7 Z" fill="#f24a00"/>
<path d="M660.5 556.9 V517.50 Q660.5 510.50 667.5 510.50 H673.5 Q680.5 510.50 680.5 517.50 V556.9 Z" fill="#104c61"/>
<path d="M660.5 607.1 V555.90 Q660.5 548.90 667.5 548.90 H673.5 Q680.5 548.90 680.5 555.90 V607.1 Z" fill="#ffc505"/>
<path d="M660.5 658 V606.10 Q660.5 599.10 667.5 599.10 H673.5 Q680.5 599.10 680.5 606.10 V658 Z" fill="#02978a"/>
<path d="M660.5 709.7 V657.00 Q660.5 650.00 667.5 650.00 H673.5 Q680.5 650.00 680.5 657.00 V709.7 Z" fill="#f24a00"/>
<path d="M740 572.4 V509.10 Q740 502.10 747 502.10 H753 Q760 502.10 760 509.10 V572.4 Z" fill="#ff9800"/>
<path d="M740 579.5 V571.40 Q740 564.40 747 564.40 H753 Q760 564.40 760 571.40 V579.5 Z" fill="#104c61"/>
<path d="M740 611.1 V578.50 Q740 571.50 747 571.50 H753 Q760 571.50 760 578.50 V611.1 Z" fill="#ffc505"/>
<path d="M740 648 V610.10 Q740 603.10 747 603.10 H753 Q760 603.10 760 610.10 V648 Z" fill="#02978a"/>
<path d="M740 709.7 V647.00 Q740 640.00 747 640.00 H753 Q760 640.00 760 647.00 V709.7 Z" fill="#f24a00"/>
<path d="M820.5 563.4 V500.10 Q820.5 493.10 827.5 493.10 H833.5 Q840.5 493.10 840.5 500.10 V563.4 Z" fill="#104c61"/>
<path d="M820.5 634.4 V562.40 Q820.5 555.40 827.5 555.40 H833.5 Q840.5 555.40 840.5 562.40 V634.4 Z" fill="#02978a"/>
<path d="M820.5 709.7 V633.40 Q820.5 626.40 827.5 626.40 H833.5 Q840.5 626.40 840.5 633.40 V709.7 Z" fill="#f24a00"/>
<path d="M900 507.3 V489.00 Q900 482.00 907 482.00 H913 Q920 482.00 920 489.00 V507.3 Z" fill="#ff9800"/>
<path d="M900 579.2 V506.30 Q900 499.30 907 499.30 H913 Q920 499.30 920 506.30 V579.2 Z" fill="#104c61"/>
<path d="M900 622 V578.20 Q900 571.20 907 571.20 H913 Q920 571.20 920 578.20 V622 Z" fill="#ffc505"/>
<path d="M900 632.8 V621.00 Q900 614.00 907 614.00 H913 Q920 614.00 920 621.00 V632.8 Z" fill="#02978a"/>
<path d="M900 709.7 V631.80 Q900 624.80 907 624.80 H913 Q920 624.80 920 631.80 V709.7 Z" fill="#f24a00"/>
<path d="M1116.01 400.10 A76.2 76.2 0 1 1 1065.74 422.70" fill="none" stroke="#f24a00" stroke-width="7.8" />
<path d="M1065.74 422.70 A76.2 76.2 0 0 1 1116.01 400.10" fill="none" stroke="#fbdcb9" stroke-width="7.8" />
<path d="M1115.98 412.33 A64 64 0 1 1 1057.33 463.22" fill="none" stroke="#ffb800" stroke-width="8.4" />
<path d="M1057.33 463.22 A64 64 0 0 1 1115.98 412.33" fill="none" stroke="#fde0b8" stroke-width="8.4" />
<path d="M1116.03 424.55 A51.8 51.8 0 1 1 1074.48 500.92" fill="none" stroke="#104c61" stroke-width="7.9" />
<path d="M1074.48 500.92 A51.8 51.8 0 0 1 1116.03 424.55" fill="none" stroke="#b9bfc6" stroke-width="7.9" />
<path d="M1052 711 H1760" stroke="#f0f1f3" stroke-width="1"/>
<path d="M1052 755 H1760" stroke="#f0f1f3" stroke-width="1"/>
<path d="M1052 797.5 H1760" stroke="#f0f1f3" stroke-width="1"/>
<path d="M1052 839.6 H1760" stroke="#f0f1f3" stroke-width="1"/>
<path d="M1052 882 H1760" stroke="#f0f1f3" stroke-width="1"/>
<path d="M1052 924 H1760" stroke="#f0f1f3" stroke-width="1"/>
<path d="M1071.8 928.6 V707.00 Q1071.8 699.50 1079.3 699.50 H1082.3 Q1089.8 699.50 1089.8 707.00 V928.6 Z" fill="#ecedf1"/>
<path d="M1093.5 928.6 V707.00 Q1093.5 699.50 1101.0 699.50 H1104.0 Q1111.5 699.50 1111.5 707.00 V928.6 Z" fill="#ecedf1"/>
<path d="M1115.2 928.6 V707.00 Q1115.2 699.50 1122.7 699.50 H1125.7 Q1133.2 699.50 1133.2 707.00 V928.6 Z" fill="#ecedf1"/>
<path d="M1136.9 928.6 V707.00 Q1136.9 699.50 1144.4 699.50 H1147.4 Q1154.9 699.50 1154.9 707.00 V928.6 Z" fill="#ecedf1"/>
<path d="M1158.6 928.6 V707.00 Q1158.6 699.50 1166.1 699.50 H1169.1 Q1176.6 699.50 1176.6 707.00 V928.6 Z" fill="#ecedf1"/>
<path d="M1180.3 928.6 V707.00 Q1180.3 699.50 1187.8 699.50 H1190.8 Q1198.3 699.50 1198.3 707.00 V928.6 Z" fill="#ecedf1"/>
<path d="M1202.0 928.6 V707.00 Q1202.0 699.50 1209.5 699.50 H1212.5 Q1220.0 699.50 1220.0 707.00 V928.6 Z" fill="#ecedf1"/>
<path d="M1223.7 928.6 V707.00 Q1223.7 699.50 1231.2 699.50 H1234.2 Q1241.7 699.50 1241.7 707.00 V928.6 Z" fill="#ecedf1"/>
<path d="M1245.4 928.6 V707.00 Q1245.4 699.50 1252.9 699.50 H1255.9 Q1263.4 699.50 1263.4 707.00 V928.6 Z" fill="#ecedf1"/>
<path d="M1267.1 928.6 V707.00 Q1267.1 699.50 1274.6 699.50 H1277.6 Q1285.1 699.50 1285.1 707.00 V928.6 Z" fill="#ecedf1"/>
<path d="M1288.8 928.6 V707.00 Q1288.8 699.50 1296.3 699.50 H1299.3 Q1306.8 699.50 1306.8 707.00 V928.6 Z" fill="#ecedf1"/>
<path d="M1310.5 928.6 V707.00 Q1310.5 699.50 1318.0 699.50 H1321.0 Q1328.5 699.50 1328.5 707.00 V928.6 Z" fill="#ecedf1"/>
<path d="M1332.2 928.6 V707.00 Q1332.2 699.50 1339.7 699.50 H1342.7 Q1350.2 699.50 1350.2 707.00 V928.6 Z" fill="#ecedf1"/>
<path d="M1353.9 928.6 V707.00 Q1353.9 699.50 1361.4 699.50 H1364.4 Q1371.9 699.50 1371.9 707.00 V928.6 Z" fill="#ecedf1"/>
<path d="M1375.6 928.6 V707.00 Q1375.6 699.50 1383.1 699.50 H1386.1 Q1393.6 699.50 1393.6 707.00 V928.6 Z" fill="#ecedf1"/>
<path d="M1397.3 928.6 V707.00 Q1397.3 699.50 1404.8 699.50 H1407.8 Q1415.3 699.50 1415.3 707.00 V928.6 Z" fill="#ecedf1"/>
<path d="M1419.0 928.6 V707.00 Q1419.0 699.50 1426.5 699.50 H1429.5 Q1437.0 699.50 1437.0 707.00 V928.6 Z" fill="#ecedf1"/>
<path d="M1440.7 928.6 V707.00 Q1440.7 699.50 1448.2 699.50 H1451.2 Q1458.7 699.50 1458.7 707.00 V928.6 Z" fill="#ecedf1"/>
<path d="M1462.4 928.6 V707.00 Q1462.4 699.50 1469.9 699.50 H1472.9 Q1480.4 699.50 1480.4 707.00 V928.6 Z" fill="#ecedf1"/>
<path d="M1484.1 928.6 V707.00 Q1484.1 699.50 1491.6 699.50 H1494.6 Q1502.1 699.50 1502.1 707.00 V928.6 Z" fill="#ecedf1"/>
<path d="M1505.8 928.6 V707.00 Q1505.8 699.50 1513.3 699.50 H1516.3 Q1523.8 699.50 1523.8 707.00 V928.6 Z" fill="#ecedf1"/>
<path d="M1527.5 928.6 V707.00 Q1527.5 699.50 1535.0 699.50 H1538.0 Q1545.5 699.50 1545.5 707.00 V928.6 Z" fill="#ecedf1"/>
<path d="M1549.2 928.6 V707.00 Q1549.2 699.50 1556.7 699.50 H1559.7 Q1567.2 699.50 1567.2 707.00 V928.6 Z" fill="#ecedf1"/>
<path d="M1570.9 928.6 V707.00 Q1570.9 699.50 1578.4 699.50 H1581.4 Q1588.9 699.50 1588.9 707.00 V928.6 Z" fill="#ecedf1"/>
<path d="M1592.6 928.6 V707.00 Q1592.6 699.50 1600.1 699.50 H1603.1 Q1610.6 699.50 1610.6 707.00 V928.6 Z" fill="#ecedf1"/>
<path d="M1614.3 928.6 V707.00 Q1614.3 699.50 1621.8 699.50 H1624.8 Q1632.3 699.50 1632.3 707.00 V928.6 Z" fill="#ecedf1"/>
<path d="M1636.0 928.6 V707.00 Q1636.0 699.50 1643.5 699.50 H1646.5 Q1654.0 699.50 1654.0 707.00 V928.6 Z" fill="#ecedf1"/>
<path d="M1657.7 928.6 V707.00 Q1657.7 699.50 1665.2 699.50 H1668.2 Q1675.7 699.50 1675.7 707.00 V928.6 Z" fill="#ecedf1"/>
<path d="M1679.4 928.6 V707.00 Q1679.4 699.50 1686.9 699.50 H1689.9 Q1697.4 699.50 1697.4 707.00 V928.6 Z" fill="#ecedf1"/>
<path d="M1701.1 928.6 V707.00 Q1701.1 699.50 1708.6 699.50 H1711.6 Q1719.1 699.50 1719.1 707.00 V928.6 Z" fill="#ecedf1"/>
<path d="M1722.8 928.6 V707.00 Q1722.8 699.50 1730.3 699.50 H1733.3 Q1740.8 699.50 1740.8 707.00 V928.6 Z" fill="#ecedf1"/>
<path d="M1071.8 852 V773.90 Q1071.8 766.40 1079.3 766.40 H1082.3 Q1089.8 766.40 1089.8 773.90 V852 Z" fill="#02978a"/>
<path d="M1071.8 928.6 V850.50 Q1071.8 843.00 1079.3 843.00 H1082.3 Q1089.8 843.00 1089.8 850.50 V928.6 Z" fill="#104c61"/>
<path d="M1093.5 852 V773.90 Q1093.5 766.40 1101.0 766.40 H1104.0 Q1111.5 766.40 1111.5 773.90 V852 Z" fill="#02978a"/>
<path d="M1093.5 928.6 V850.50 Q1093.5 843.00 1101.0 843.00 H1104.0 Q1111.5 843.00 1111.5 850.50 V928.6 Z" fill="#104c61"/>
<path d="M1158.6 900 V773.90 Q1158.6 766.40 1166.1 766.40 H1169.1 Q1176.6 766.40 1176.6 773.90 V900 Z" fill="#02978a"/>
<path d="M1158.6 928.6 V898.50 Q1158.6 891.00 1166.1 891.00 H1169.1 Q1176.6 891.00 1176.6 898.50 V928.6 Z" fill="#104c61"/>
<path d="M1180.3 852 V773.90 Q1180.3 766.40 1187.8 766.40 H1190.8 Q1198.3 766.40 1198.3 773.90 V852 Z" fill="#02978a"/>
<path d="M1180.3 928.6 V850.50 Q1180.3 843.00 1187.8 843.00 H1190.8 Q1198.3 843.00 1198.3 850.50 V928.6 Z" fill="#104c61"/>
<path d="M1202.0 852 V801.60 Q1202.0 794.10 1209.5 794.10 H1212.5 Q1220.0 794.10 1220.0 801.60 V852 Z" fill="#02978a"/>
<path d="M1202.0 928.6 V850.50 Q1202.0 843.00 1209.5 843.00 H1212.5 Q1220.0 843.00 1220.0 850.50 V928.6 Z" fill="#104c61"/>
<path d="M1223.7 852 V773.90 Q1223.7 766.40 1231.2 766.40 H1234.2 Q1241.7 766.40 1241.7 773.90 V852 Z" fill="#02978a"/>
<path d="M1223.7 928.6 V850.50 Q1223.7 843.00 1231.2 843.00 H1234.2 Q1241.7 843.00 1241.7 850.50 V928.6 Z" fill="#104c61"/>
<path d="M1245.4 852 V773.90 Q1245.4 766.40 1252.9 766.40 H1255.9 Q1263.4 766.40 1263.4 773.90 V852 Z" fill="#02978a"/>
<path d="M1245.4 928.6 V850.50 Q1245.4 843.00 1252.9 843.00 H1255.9 Q1263.4 843.00 1263.4 850.50 V928.6 Z" fill="#104c61"/>
<path d="M1310.5 889.9 V804.30 Q1310.5 796.80 1318.0 796.80 H1321.0 Q1328.5 796.80 1328.5 804.30 V889.9 Z" fill="#02978a"/>
<path d="M1310.5 928.6 V888.40 Q1310.5 880.90 1318.0 880.90 H1321.0 Q1328.5 880.90 1328.5 888.40 V928.6 Z" fill="#104c61"/>
<path d="M1332.2 852 V773.90 Q1332.2 766.40 1339.7 766.40 H1342.7 Q1350.2 766.40 1350.2 773.90 V852 Z" fill="#02978a"/>
<path d="M1332.2 928.6 V850.50 Q1332.2 843.00 1339.7 843.00 H1342.7 Q1350.2 843.00 1350.2 850.50 V928.6 Z" fill="#104c61"/>
<path d="M1353.9 852 V773.90 Q1353.9 766.40 1361.4 766.40 H1364.4 Q1371.9 766.40 1371.9 773.90 V852 Z" fill="#02978a"/>
<path d="M1353.9 928.6 V850.50 Q1353.9 843.00 1361.4 843.00 H1364.4 Q1371.9 843.00 1371.9 850.50 V928.6 Z" fill="#104c61"/>
<path d="M1375.6 852 V773.90 Q1375.6 766.40 1383.1 766.40 H1386.1 Q1393.6 766.40 1393.6 773.90 V852 Z" fill="#02978a"/>
<path d="M1375.6 928.6 V850.50 Q1375.6 843.00 1383.1 843.00 H1386.1 Q1393.6 843.00 1393.6 850.50 V928.6 Z" fill="#104c61"/>
<path d="M1397.3 852 V773.90 Q1397.3 766.40 1404.8 766.40 H1407.8 Q1415.3 766.40 1415.3 773.90 V852 Z" fill="#02978a"/>
<path d="M1397.3 928.6 V850.50 Q1397.3 843.00 1404.8 843.00 H1407.8 Q1415.3 843.00 1415.3 850.50 V928.6 Z" fill="#104c61"/>
<path d="M1440.7 928.6 V881.50 Q1440.7 874.00 1448.2 874.00 H1451.2 Q1458.7 874.00 1458.7 881.50 V928.6 Z" fill="#104c61"/>
<path d="M1462.4 852 V773.90 Q1462.4 766.40 1469.9 766.40 H1472.9 Q1480.4 766.40 1480.4 773.90 V852 Z" fill="#02978a"/>
<path d="M1462.4 928.6 V850.50 Q1462.4 843.00 1469.9 843.00 H1472.9 Q1480.4 843.00 1480.4 850.50 V928.6 Z" fill="#104c61"/>
<path d="M1484.1 852 V773.90 Q1484.1 766.40 1491.6 766.40 H1494.6 Q1502.1 766.40 1502.1 773.90 V852 Z" fill="#02978a"/>
<path d="M1484.1 928.6 V850.50 Q1484.1 843.00 1491.6 843.00 H1494.6 Q1502.1 843.00 1502.1 850.50 V928.6 Z" fill="#104c61"/>
<path d="M1505.8 852 V773.90 Q1505.8 766.40 1513.3 766.40 H1516.3 Q1523.8 766.40 1523.8 773.90 V852 Z" fill="#02978a"/>
<path d="M1505.8 928.6 V850.50 Q1505.8 843.00 1513.3 843.00 H1516.3 Q1523.8 843.00 1523.8 850.50 V928.6 Z" fill="#104c61"/>
<path d="M1527.5 928.6 V769.70 Q1527.5 762.20 1535.0 762.20 H1538.0 Q1545.5 762.20 1545.5 769.70 V928.6 Z" fill="#104c61"/>
<path d="M1549.2 852 V773.90 Q1549.2 766.40 1556.7 766.40 H1559.7 Q1567.2 766.40 1567.2 773.90 V852 Z" fill="#02978a"/>
<path d="M1549.2 928.6 V850.50 Q1549.2 843.00 1556.7 843.00 H1559.7 Q1567.2 843.00 1567.2 850.50 V928.6 Z" fill="#104c61"/>
<path d="M1614.3 852 V812.50 Q1614.3 805.00 1621.8 805.00 H1624.8 Q1632.3 805.00 1632.3 812.50 V852 Z" fill="#02978a"/>
<path d="M1614.3 928.6 V850.50 Q1614.3 843.00 1621.8 843.00 H1624.8 Q1632.3 843.00 1632.3 850.50 V928.6 Z" fill="#104c61"/>
<path d="M1636.0 852 V736.30 Q1636.0 728.80 1643.5 728.80 H1646.5 Q1654.0 728.80 1654.0 736.30 V852 Z" fill="#02978a"/>
<path d="M1636.0 928.6 V850.50 Q1636.0 843.00 1643.5 843.00 H1646.5 Q1654.0 843.00 1654.0 850.50 V928.6 Z" fill="#104c61"/>
<path d="M1657.7 852 V773.90 Q1657.7 766.40 1665.2 766.40 H1668.2 Q1675.7 766.40 1675.7 773.90 V852 Z" fill="#02978a"/>
<path d="M1657.7 928.6 V850.50 Q1657.7 843.00 1665.2 843.00 H1668.2 Q1675.7 843.00 1675.7 850.50 V928.6 Z" fill="#104c61"/>
<path d="M1679.4 852 V773.90 Q1679.4 766.40 1686.9 766.40 H1689.9 Q1697.4 766.40 1697.4 773.90 V852 Z" fill="#02978a"/>
<path d="M1679.4 928.6 V850.50 Q1679.4 843.00 1686.9 843.00 H1689.9 Q1697.4 843.00 1697.4 850.50 V928.6 Z" fill="#104c61"/>
<path d="M1701.1 852 V773.90 Q1701.1 766.40 1708.6 766.40 H1711.6 Q1719.1 766.40 1719.1 773.90 V852 Z" fill="#02978a"/>
<path d="M1701.1 928.6 V850.50 Q1701.1 843.00 1708.6 843.00 H1711.6 Q1719.1 843.00 1719.1 850.50 V928.6 Z" fill="#104c61"/>
<path d="M1060 767.9 H1752" stroke="#48cb8a" stroke-width="2"/><circle cx="1060.2" cy="767.9" r="5" fill="#48cb8a"/><circle cx="1751.5" cy="767.9" r="5" fill="#48cb8a"/>
<path d="M1615.4 646.6 L1610.2 651.8 L1615.4 657" fill="none" stroke="#475569" stroke-width="1.6"/>
<path d="M1753.6 646.6 L1758.8 651.8 L1753.6 657" fill="none" stroke="#475569" stroke-width="1.6"/></svg>
<span class="t" style="left:90.30px;top:80.00px;font-size:25.6px;line-height:31px;letter-spacing:0.183px;color:#151b2d;font-weight:700;-webkit-text-stroke:0.20px #151b2d;transform:scaleX(1.05);transform-origin:0 0;">leadtime</span>
<div class="a" style="left:200.6px;top:84.6px;width:3px;height:3px;border-radius:2px;border:0.8px solid #3b4356"></div>
</div>
</body></html>
